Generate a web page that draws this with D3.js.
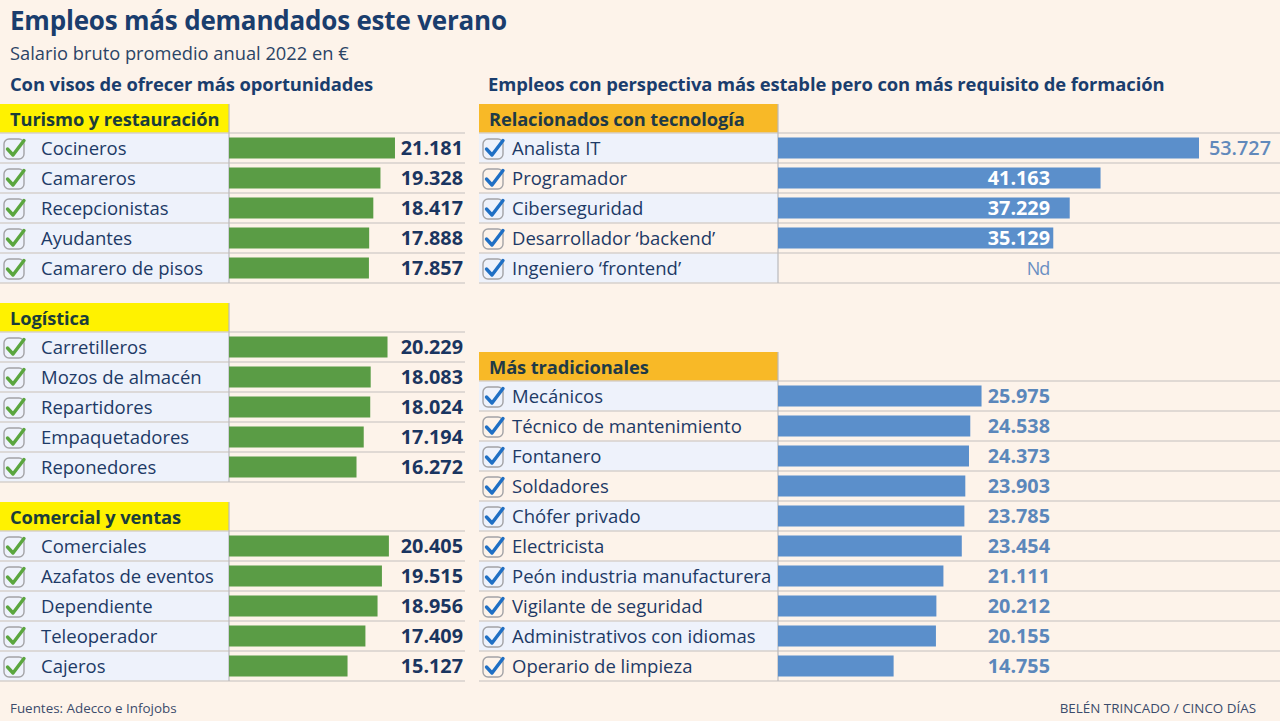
<!DOCTYPE html>
<html><head><meta charset="utf-8">
<script src="https://cdn.jsdelivr.net/npm/d3@7"></script>
<style>
html,body{margin:0;padding:0;background:#fdf3ea;}
svg{display:block;font-family:"Open Sans",Lato,sans-serif;}
</style></head>
<body>
<svg id="c" width="1280" height="721"></svg>
<script>
// ---- DATA ----
const turismoCats = ["Cocineros","Camareros","Recepcionistas","Ayudantes","Camarero de pisos"];
const turismoVals = [21181,19328,18417,17888,17857];
const logisticaCats = ["Carretilleros","Mozos de almacén","Repartidores","Empaquetadores","Reponedores"];
const logisticaVals = [20229,18083,18024,17194,16272];
const comercialCats = ["Comerciales","Azafatos de eventos","Dependiente","Teleoperador","Cajeros"];
const comercialVals = [20405,19515,18956,17409,15127];
const tecnologiaCats = ["Analista IT","Programador","Ciberseguridad","Desarrollador ‘backend’","Ingeniero ‘frontend’"];
const tecnologiaVals = [53727,41163,37229,35129,null];
const tradicionalesCats = ["Mecánicos","Técnico de mantenimiento","Fontanero","Soldadores","Chófer privado","Electricista","Peón industria manufacturera","Vigilante de seguridad","Administrativos con idiomas","Operario de limpieza"];
const tradicionalesVals = [25975,24538,24373,23903,23785,23454,21111,20212,20155,14755];

const svg = d3.select("#c");
const fmt = v => d3.format(",")(v).replace(/,/g, ".");
const x = d3.scaleLinear().domain([0, 53727]).range([0, 421]);
const ROW = 30;

// Titles
svg.append("text").attr("x",10).attr("y",30).attr("fill","#1a3d6d")
  .attr("font-size",26).attr("font-weight",700).attr("letter-spacing",-0.2).text("Empleos más demandados este verano");
svg.append("text").attr("x",10).attr("y",60).attr("fill","#2b4466")
  .attr("font-size",18.3).text("Salario bruto promedio anual 2022 en €");
svg.append("text").attr("x",10).attr("y",91).attr("fill","#1a3d6d")
  .attr("font-size",18.4).attr("font-weight",700).attr("letter-spacing",-0.1).text("Con visos de ofrecer más oportunidades");
svg.append("text").attr("x",488).attr("y",91).attr("fill","#1a3d6d")
  .attr("font-size",18.4).attr("font-weight",700).attr("letter-spacing",-0.1).text("Empleos con perspectiva más estable pero con más requisito de formación");

// footer
svg.append("text").attr("x",10).attr("y",713).attr("fill","#3b4b6b")
  .attr("font-size",13.4).text("Fuentes: Adecco e Infojobs");
svg.append("text").attr("x",1256).attr("y",713).attr("text-anchor","end").attr("fill","#3b4b6b")
  .attr("font-size",13.4).text("BELÉN TRINCADO / CINCO DÍAS");

function group(o){
  const g = svg.append("g");
  const top = o.top;
  const y = d3.scaleBand().domain(o.cats).range([top+29, top+29+o.cats.length*ROW]);
  // header box
  g.append("rect").attr("x",o.x0).attr("y",top).attr("width",o.labelW).attr("height",29).attr("fill",o.headFill);
  g.append("text").attr("x",o.x0+10).attr("y",top+21.5).attr("font-size",18.3).attr("font-weight",700)
    .attr("letter-spacing",-0.1).attr("fill",o.headText).text(o.title);
  // label cells
  g.selectAll("rect.cell").data(o.cats).join("rect").attr("class","cell")
    .attr("x",o.x0).attr("y",d=>y(d)).attr("width",o.labelW).attr("height",ROW)
    .attr("fill",(d,i)=> (o.alternate ? (i%2===0) : true) ? "#eef2fb" : "none");
  // separators
  const seps = [top+29].concat(o.cats.map(c=>y(c)+ROW));
  g.selectAll("line.sep").data(seps).join("line").attr("class","sep")
    .attr("x1",o.x0).attr("x2",o.x1).attr("y1",d=>d).attr("y2",d=>d)
    .attr("stroke","#d6d0cc").attr("stroke-width",1.5);
  // vertical
  g.append("line").attr("x1",o.x0+o.labelW).attr("x2",o.x0+o.labelW).attr("y1",top).attr("y2",top+29+o.cats.length*ROW)
    .attr("stroke","#b9b9bd").attr("stroke-width",1.2);
  // checkboxes
  const cb = g.selectAll("g.cb").data(o.cats).join("g").attr("class","cb")
    .attr("transform",d=>`translate(${o.x0+4},${y(d)+5})`);
  cb.append("rect").attr("x",0).attr("y",1).attr("width",20).attr("height",20).attr("rx",5)
    .attr("fill","none").attr("stroke","#a3a3a6").attr("stroke-width",1.4);
  cb.append("path").attr("d","M3.5,11 L9,17 L20,2.5").attr("fill","none")
    .attr("stroke",o.checkColor).attr("stroke-width",3.4).attr("stroke-linecap","round").attr("stroke-linejoin","round");
  // labels
  g.selectAll("text.lab").data(o.cats).join("text").attr("class","lab")
    .attr("x",o.x0+o.textX).attr("y",d=>y(d)+ROW/2+6.8).attr("font-size",18.5)
    .attr("fill","#1d3a66").text(d=>d);
  // bars
  const bx = o.x0+o.labelW;
  const data = o.cats.map((c,i)=>({c, v:o.vals[i]}));
  g.selectAll("rect.bar").data(data.filter(d=>d.v!=null)).join("rect").attr("class","bar")
    .attr("x",bx).attr("y",d=>y(d.c)+4.5).attr("height",21).attr("width",d=>x(d.v)).attr("fill",o.barFill);
  // values
  g.selectAll("text.val").data(data).join("text").attr("class","val")
    .attr("y",d=>y(d.c)+ROW/2+7).attr("font-size",19.8)
    .each(function(d){
      const t = d3.select(this);
      if (o.side==="left"){
        t.attr("x",o.x1-2).attr("text-anchor","end").attr("font-weight",700).attr("fill","#1a3560").text(fmt(d.v));
        return;
      }
      const col = o.valCol;
      if (d.v==null){
        t.attr("x",col-12).attr("text-anchor","middle").attr("font-weight",400).attr("font-size",18)
          .attr("letter-spacing",-1).attr("fill","#6a8fc2").text("Nd");
        return;
      }
      const end = bx + x(d.v);
      if (end > col + 100){
        t.attr("x",end+10).attr("text-anchor","start").attr("font-weight",600).attr("fill","#6189bb").text(fmt(d.v));
      } else if (end > col){
        t.attr("x",col).attr("text-anchor","end").attr("font-weight",700).attr("fill","#ffffff").text(fmt(d.v));
      } else {
        t.attr("x",col).attr("text-anchor","end").attr("font-weight",700).attr("fill","#5b87bb").text(fmt(d.v));
      }
    });
}

const leftCfg = {x0:0, x1:465, labelW:229, textX:41, headFill:"#fff200", headText:"#1b3d3a", checkColor:"#5aa63e", barFill:"#5a9c45", side:"left"};
group(Object.assign({top:104, title:"Turismo y restauración", cats:turismoCats, vals:turismoVals}, leftCfg));
group(Object.assign({top:303, title:"Logística", cats:logisticaCats, vals:logisticaVals}, leftCfg));
group(Object.assign({top:502, title:"Comercial y ventas", cats:comercialCats, vals:comercialVals}, leftCfg));

const rightCfg = {x0:479, x1:1280, labelW:299, textX:33, headFill:"#f8b927", headText:"#1f3a46", checkColor:"#1f6fc4", barFill:"#5b8fcb", side:"right", valCol:1050, alternate:true};
group(Object.assign({top:104, title:"Relacionados con tecnología", cats:tecnologiaCats, vals:tecnologiaVals}, rightCfg));
group(Object.assign({top:352, title:"Más tradicionales", cats:tradicionalesCats, vals:tradicionalesVals}, rightCfg));
</script>
</body></html>
